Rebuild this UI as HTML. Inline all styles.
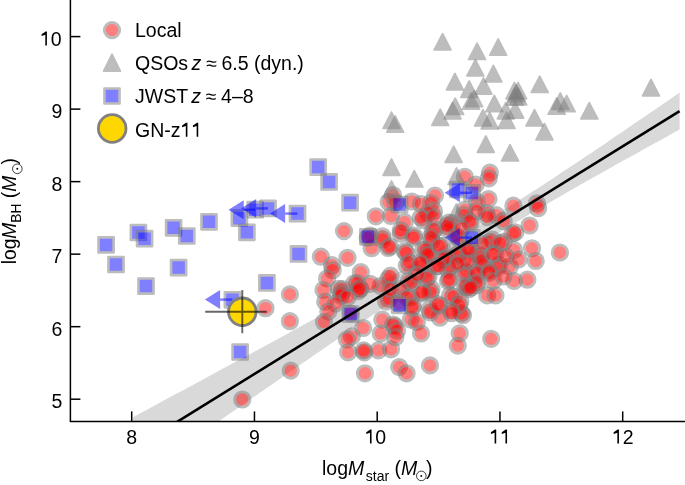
<!DOCTYPE html>
<html><head><meta charset="utf-8"><style>html,body{margin:0;padding:0;background:#fff;width:685px;height:485px;overflow:hidden}svg{display:block;will-change:transform}text{font-family:"Liberation Sans", sans-serif}</style></head><body>
<svg width="685" height="485" viewBox="0 0 685 485" font-family='"Liberation Sans", sans-serif' fill="#000"><defs><clipPath id="c"><rect x="70.4" y="0" width="614.6" height="421.4"/></clipPath></defs>
<polygon clip-path="url(#c)" points="132.6,417.4 137.2,414.9 141.8,412.5 146.4,410.0 151.0,407.5 155.6,405.0 160.2,402.6 164.8,400.1 169.4,397.6 174.0,395.1 178.6,392.6 183.2,390.2 187.8,387.7 192.4,385.2 197.0,382.7 201.5,380.2 206.1,377.8 210.7,375.3 215.3,372.8 219.9,370.3 224.5,367.8 229.1,365.3 233.7,362.8 238.3,360.3 242.9,357.8 247.5,355.4 252.1,352.9 256.7,350.4 261.3,347.9 265.9,345.4 270.5,342.9 275.1,340.4 279.7,337.9 284.3,335.4 288.9,332.9 293.5,330.3 298.1,327.8 302.7,325.3 307.3,322.8 311.9,320.3 316.5,317.8 321.1,315.2 325.7,312.7 330.3,310.2 334.9,307.7 339.4,305.1 344.0,302.6 348.6,300.1 353.2,297.5 357.8,295.0 362.4,292.4 367.0,289.9 371.6,287.3 376.2,284.7 380.8,282.1 385.4,279.6 390.0,277.0 394.6,274.4 399.2,271.8 403.8,269.2 408.4,266.6 413.0,264.0 417.6,261.3 422.2,258.7 426.8,256.1 431.4,253.4 436.0,250.7 440.6,248.0 445.2,245.4 449.8,242.7 454.4,239.9 459.0,237.2 463.6,234.5 468.2,231.7 472.8,229.0 477.3,226.2 481.9,223.4 486.5,220.6 491.1,217.7 495.7,214.9 500.3,212.0 504.9,209.2 509.5,206.3 514.1,203.4 518.7,200.5 523.3,197.5 527.9,194.6 532.5,191.6 537.1,188.7 541.7,185.7 546.3,182.7 550.9,179.7 555.5,176.7 560.1,173.6 564.7,170.6 569.3,167.5 573.9,164.5 578.5,161.4 583.1,158.3 587.7,155.3 592.3,152.2 596.9,149.1 601.5,146.0 606.1,142.9 610.7,139.8 615.2,136.6 619.8,133.5 624.4,130.4 629.0,127.3 633.6,124.1 638.2,121.0 642.8,117.8 647.4,114.7 652.0,111.5 656.6,108.4 661.2,105.2 665.8,102.1 670.4,98.9 675.0,95.7 679.6,92.6 679.6,129.6 675.0,132.1 670.4,134.6 665.8,137.2 661.2,139.7 656.6,142.2 652.0,144.8 647.4,147.3 642.8,149.8 638.2,152.4 633.6,154.9 629.0,157.5 624.4,160.0 619.8,162.6 615.2,165.1 610.7,167.7 606.1,170.3 601.5,172.9 596.9,175.4 592.3,178.0 587.7,180.6 583.1,183.2 578.5,185.8 573.9,188.5 569.3,191.1 564.7,193.7 560.1,196.4 555.5,199.0 550.9,201.7 546.3,204.4 541.7,207.1 537.1,209.8 532.5,212.5 527.9,215.2 523.3,218.0 518.7,220.7 514.1,223.5 509.5,226.3 504.9,229.1 500.3,231.9 495.7,234.7 491.1,237.6 486.5,240.4 481.9,243.3 477.3,246.2 472.8,249.1 468.2,252.0 463.6,254.9 459.0,257.9 454.4,260.8 449.8,263.8 445.2,266.8 440.6,269.8 436.0,272.8 431.4,275.8 426.8,278.8 422.2,281.9 417.6,284.9 413.0,288.0 408.4,291.1 403.8,294.1 399.2,297.2 394.6,300.3 390.0,303.4 385.4,306.5 380.8,309.6 376.2,312.7 371.6,315.8 367.0,319.0 362.4,322.1 357.8,325.2 353.2,328.4 348.6,331.5 344.0,334.7 339.4,337.8 334.9,341.0 330.3,344.1 325.7,347.3 321.1,350.4 316.5,353.6 311.9,356.8 307.3,359.9 302.7,363.1 298.1,366.3 293.5,369.5 288.9,372.6 284.3,375.8 279.7,379.0 275.1,382.2 270.5,385.4 265.9,388.5 261.3,391.7 256.7,394.9 252.1,398.1 247.5,401.3 242.9,404.5 238.3,407.7 233.7,410.9 229.1,414.1 224.5,417.3 219.9,420.5 215.3,423.7 210.7,426.9 206.1,430.1 201.5,433.3 197.0,436.5 192.4,439.7 187.8,442.9 183.2,446.1 178.6,449.3 174.0,452.5 169.4,455.7 164.8,458.9 160.2,462.1 155.6,465.3 151.0,468.5 146.4,471.8 141.8,475.0 137.2,478.2 132.6,481.4" fill="#d9d9d9"/>
<g>
<circle cx="242.3" cy="399.5" r="7.65" fill="#ff0000" stroke="#7a7a7a" stroke-width="2.9" opacity="0.5"/>
<circle cx="265.5" cy="308.2" r="7.65" fill="#ff0000" stroke="#7a7a7a" stroke-width="2.9" opacity="0.5"/>
<circle cx="289.9" cy="294.4" r="7.65" fill="#ff0000" stroke="#7a7a7a" stroke-width="2.9" opacity="0.5"/>
<circle cx="289.9" cy="321.2" r="7.65" fill="#ff0000" stroke="#7a7a7a" stroke-width="2.9" opacity="0.5"/>
<circle cx="290.7" cy="370.6" r="7.65" fill="#ff0000" stroke="#7a7a7a" stroke-width="2.9" opacity="0.5"/>
<circle cx="344" cy="231.1" r="7.65" fill="#ff0000" stroke="#7a7a7a" stroke-width="2.9" opacity="0.5"/>
<circle cx="375.8" cy="216.3" r="7.65" fill="#ff0000" stroke="#7a7a7a" stroke-width="2.9" opacity="0.5"/>
<circle cx="390.9" cy="216" r="7.65" fill="#ff0000" stroke="#7a7a7a" stroke-width="2.9" opacity="0.5"/>
<circle cx="388.6" cy="202" r="7.65" fill="#ff0000" stroke="#7a7a7a" stroke-width="2.9" opacity="0.5"/>
<circle cx="393" cy="195" r="7.65" fill="#ff0000" stroke="#7a7a7a" stroke-width="2.9" opacity="0.5"/>
<circle cx="489.9" cy="172.6" r="7.65" fill="#ff0000" stroke="#7a7a7a" stroke-width="2.9" opacity="0.5"/>
<circle cx="488.8" cy="178.3" r="7.65" fill="#ff0000" stroke="#7a7a7a" stroke-width="2.9" opacity="0.5"/>
<circle cx="464.8" cy="176.8" r="7.65" fill="#ff0000" stroke="#7a7a7a" stroke-width="2.9" opacity="0.5"/>
<circle cx="475.6" cy="184.6" r="7.65" fill="#ff0000" stroke="#7a7a7a" stroke-width="2.9" opacity="0.5"/>
<circle cx="488.5" cy="199" r="7.65" fill="#ff0000" stroke="#7a7a7a" stroke-width="2.9" opacity="0.5"/>
<circle cx="513.4" cy="205.7" r="7.65" fill="#ff0000" stroke="#7a7a7a" stroke-width="2.9" opacity="0.5"/>
<circle cx="536.9" cy="203.3" r="7.65" fill="#ff0000" stroke="#7a7a7a" stroke-width="2.9" opacity="0.5"/>
<circle cx="538.1" cy="208.2" r="7.65" fill="#ff0000" stroke="#7a7a7a" stroke-width="2.9" opacity="0.5"/>
<circle cx="529.6" cy="225.5" r="7.65" fill="#ff0000" stroke="#7a7a7a" stroke-width="2.9" opacity="0.5"/>
<circle cx="532" cy="248.3" r="7.65" fill="#ff0000" stroke="#7a7a7a" stroke-width="2.9" opacity="0.5"/>
<circle cx="535.7" cy="261" r="7.65" fill="#ff0000" stroke="#7a7a7a" stroke-width="2.9" opacity="0.5"/>
<circle cx="559.9" cy="252.5" r="7.65" fill="#ff0000" stroke="#7a7a7a" stroke-width="2.9" opacity="0.5"/>
<circle cx="430" cy="365.4" r="7.65" fill="#ff0000" stroke="#7a7a7a" stroke-width="2.9" opacity="0.5"/>
<circle cx="399.2" cy="367" r="7.65" fill="#ff0000" stroke="#7a7a7a" stroke-width="2.9" opacity="0.5"/>
<circle cx="406.6" cy="373.3" r="7.65" fill="#ff0000" stroke="#7a7a7a" stroke-width="2.9" opacity="0.5"/>
<circle cx="365" cy="373.3" r="7.65" fill="#ff0000" stroke="#7a7a7a" stroke-width="2.9" opacity="0.5"/>
<circle cx="364.3" cy="352.4" r="7.65" fill="#ff0000" stroke="#7a7a7a" stroke-width="2.9" opacity="0.5"/>
<circle cx="378.3" cy="350.4" r="7.65" fill="#ff0000" stroke="#7a7a7a" stroke-width="2.9" opacity="0.5"/>
<circle cx="391" cy="349.3" r="7.65" fill="#ff0000" stroke="#7a7a7a" stroke-width="2.9" opacity="0.5"/>
<circle cx="491.2" cy="338.8" r="7.65" fill="#ff0000" stroke="#7a7a7a" stroke-width="2.9" opacity="0.5"/>
<circle cx="459.7" cy="333.3" r="7.65" fill="#ff0000" stroke="#7a7a7a" stroke-width="2.9" opacity="0.5"/>
<circle cx="457.8" cy="345.6" r="7.65" fill="#ff0000" stroke="#7a7a7a" stroke-width="2.9" opacity="0.5"/>
<circle cx="411.8" cy="201.5" r="7.65" fill="#ff0000" stroke="#7a7a7a" stroke-width="2.9" opacity="0.5"/>
<circle cx="421" cy="204" r="7.65" fill="#ff0000" stroke="#7a7a7a" stroke-width="2.9" opacity="0.5"/>
<circle cx="435" cy="195.5" r="7.65" fill="#ff0000" stroke="#7a7a7a" stroke-width="2.9" opacity="0.5"/>
<circle cx="431" cy="203" r="7.65" fill="#ff0000" stroke="#7a7a7a" stroke-width="2.9" opacity="0.5"/>
<circle cx="434" cy="211" r="7.65" fill="#ff0000" stroke="#7a7a7a" stroke-width="2.9" opacity="0.5"/>
<circle cx="428" cy="213.2" r="7.65" fill="#ff0000" stroke="#7a7a7a" stroke-width="2.9" opacity="0.5"/>
<circle cx="382.4" cy="236.3" r="7.65" fill="#ff0000" stroke="#7a7a7a" stroke-width="2.9" opacity="0.5"/>
<circle cx="382.6" cy="239.4" r="7.65" fill="#ff0000" stroke="#7a7a7a" stroke-width="2.9" opacity="0.5"/>
<circle cx="371.6" cy="248.2" r="7.65" fill="#ff0000" stroke="#7a7a7a" stroke-width="2.9" opacity="0.5"/>
<circle cx="369.9" cy="235.5" r="7.65" fill="#ff0000" stroke="#7a7a7a" stroke-width="2.9" opacity="0.5"/>
<circle cx="367.7" cy="237.8" r="7.65" fill="#ff0000" stroke="#7a7a7a" stroke-width="2.9" opacity="0.5"/>
<circle cx="477" cy="202" r="7.65" fill="#ff0000" stroke="#7a7a7a" stroke-width="2.9" opacity="0.5"/>
<circle cx="486.4" cy="213" r="7.65" fill="#ff0000" stroke="#7a7a7a" stroke-width="2.9" opacity="0.5"/>
<circle cx="496.2" cy="215.2" r="7.65" fill="#ff0000" stroke="#7a7a7a" stroke-width="2.9" opacity="0.5"/>
<circle cx="464.8" cy="209.8" r="7.65" fill="#ff0000" stroke="#7a7a7a" stroke-width="2.9" opacity="0.5"/>
<circle cx="464" cy="215.2" r="7.65" fill="#ff0000" stroke="#7a7a7a" stroke-width="2.9" opacity="0.5"/>
<circle cx="476.8" cy="211" r="7.65" fill="#ff0000" stroke="#7a7a7a" stroke-width="2.9" opacity="0.5"/>
<circle cx="360.8" cy="272.2" r="7.65" fill="#ff0000" stroke="#7a7a7a" stroke-width="2.9" opacity="0.5"/>
<circle cx="380.6" cy="286" r="7.65" fill="#ff0000" stroke="#7a7a7a" stroke-width="2.9" opacity="0.5"/>
<circle cx="360.5" cy="289" r="7.65" fill="#ff0000" stroke="#7a7a7a" stroke-width="2.9" opacity="0.5"/>
<circle cx="370.2" cy="283.8" r="7.65" fill="#ff0000" stroke="#7a7a7a" stroke-width="2.9" opacity="0.5"/>
<circle cx="382.3" cy="319.6" r="7.65" fill="#ff0000" stroke="#7a7a7a" stroke-width="2.9" opacity="0.5"/>
<circle cx="410.7" cy="319.6" r="7.65" fill="#ff0000" stroke="#7a7a7a" stroke-width="2.9" opacity="0.5"/>
<circle cx="416.9" cy="322" r="7.65" fill="#ff0000" stroke="#7a7a7a" stroke-width="2.9" opacity="0.5"/>
<circle cx="363.2" cy="328" r="7.65" fill="#ff0000" stroke="#7a7a7a" stroke-width="2.9" opacity="0.5"/>
<circle cx="394.6" cy="326" r="7.65" fill="#ff0000" stroke="#7a7a7a" stroke-width="2.9" opacity="0.5"/>
<circle cx="393.1" cy="324.5" r="7.65" fill="#ff0000" stroke="#7a7a7a" stroke-width="2.9" opacity="0.5"/>
<circle cx="397.1" cy="330.7" r="7.65" fill="#ff0000" stroke="#7a7a7a" stroke-width="2.9" opacity="0.5"/>
<circle cx="380.7" cy="333.5" r="7.65" fill="#ff0000" stroke="#7a7a7a" stroke-width="2.9" opacity="0.5"/>
<circle cx="395.3" cy="337.2" r="7.65" fill="#ff0000" stroke="#7a7a7a" stroke-width="2.9" opacity="0.5"/>
<circle cx="421" cy="333.5" r="7.65" fill="#ff0000" stroke="#7a7a7a" stroke-width="2.9" opacity="0.5"/>
<circle cx="320.9" cy="256.7" r="7.65" fill="#ff0000" stroke="#7a7a7a" stroke-width="2.9" opacity="0.5"/>
<circle cx="347.5" cy="257.8" r="7.65" fill="#ff0000" stroke="#7a7a7a" stroke-width="2.9" opacity="0.5"/>
<circle cx="332" cy="265.2" r="7.65" fill="#ff0000" stroke="#7a7a7a" stroke-width="2.9" opacity="0.5"/>
<circle cx="332.7" cy="270.2" r="7.65" fill="#ff0000" stroke="#7a7a7a" stroke-width="2.9" opacity="0.5"/>
<circle cx="327.1" cy="278.5" r="7.65" fill="#ff0000" stroke="#7a7a7a" stroke-width="2.9" opacity="0.5"/>
<circle cx="323.4" cy="290" r="7.65" fill="#ff0000" stroke="#7a7a7a" stroke-width="2.9" opacity="0.5"/>
<circle cx="338.8" cy="288.8" r="7.65" fill="#ff0000" stroke="#7a7a7a" stroke-width="2.9" opacity="0.5"/>
<circle cx="342.5" cy="289.1" r="7.65" fill="#ff0000" stroke="#7a7a7a" stroke-width="2.9" opacity="0.5"/>
<circle cx="341.3" cy="293.2" r="7.65" fill="#ff0000" stroke="#7a7a7a" stroke-width="2.9" opacity="0.5"/>
<circle cx="341.2" cy="295.7" r="7.65" fill="#ff0000" stroke="#7a7a7a" stroke-width="2.9" opacity="0.5"/>
<circle cx="354.3" cy="283.3" r="7.65" fill="#ff0000" stroke="#7a7a7a" stroke-width="2.9" opacity="0.5"/>
<circle cx="357.2" cy="283.2" r="7.65" fill="#ff0000" stroke="#7a7a7a" stroke-width="2.9" opacity="0.5"/>
<circle cx="358" cy="291.2" r="7.65" fill="#ff0000" stroke="#7a7a7a" stroke-width="2.9" opacity="0.5"/>
<circle cx="359.5" cy="288.7" r="7.65" fill="#ff0000" stroke="#7a7a7a" stroke-width="2.9" opacity="0.5"/>
<circle cx="325.2" cy="301.7" r="7.65" fill="#ff0000" stroke="#7a7a7a" stroke-width="2.9" opacity="0.5"/>
<circle cx="335.7" cy="303.6" r="7.65" fill="#ff0000" stroke="#7a7a7a" stroke-width="2.9" opacity="0.5"/>
<circle cx="347.5" cy="297.4" r="7.65" fill="#ff0000" stroke="#7a7a7a" stroke-width="2.9" opacity="0.5"/>
<circle cx="328.3" cy="311.6" r="7.65" fill="#ff0000" stroke="#7a7a7a" stroke-width="2.9" opacity="0.5"/>
<circle cx="351.8" cy="336.4" r="7.65" fill="#ff0000" stroke="#7a7a7a" stroke-width="2.9" opacity="0.5"/>
<circle cx="346.9" cy="339.5" r="7.65" fill="#ff0000" stroke="#7a7a7a" stroke-width="2.9" opacity="0.5"/>
<circle cx="348.1" cy="352.3" r="7.65" fill="#ff0000" stroke="#7a7a7a" stroke-width="2.9" opacity="0.5"/>
<circle cx="363.6" cy="350.4" r="7.65" fill="#ff0000" stroke="#7a7a7a" stroke-width="2.9" opacity="0.5"/>
<circle cx="463" cy="315.2" r="7.65" fill="#ff0000" stroke="#7a7a7a" stroke-width="2.9" opacity="0.5"/>
<circle cx="461.5" cy="313.4" r="7.65" fill="#ff0000" stroke="#7a7a7a" stroke-width="2.9" opacity="0.5"/>
<circle cx="527.4" cy="279.7" r="7.65" fill="#ff0000" stroke="#7a7a7a" stroke-width="2.9" opacity="0.5"/>
<circle cx="439.9" cy="317.7" r="7.65" fill="#ff0000" stroke="#7a7a7a" stroke-width="2.9" opacity="0.5"/>
<circle cx="323.9" cy="322.1" r="7.65" fill="#ff0000" stroke="#7a7a7a" stroke-width="2.9" opacity="0.5"/>
<circle cx="350.6" cy="313.5" r="7.65" fill="#ff0000" stroke="#7a7a7a" stroke-width="2.9" opacity="0.5"/>
<circle cx="395.5" cy="202.5" r="7.65" fill="#ff0000" stroke="#7a7a7a" stroke-width="2.9" opacity="0.5"/>
<circle cx="404.7" cy="222.2" r="7.65" fill="#ff0000" stroke="#7a7a7a" stroke-width="2.9" opacity="0.5"/>
<circle cx="423.3" cy="220.2" r="7.65" fill="#ff0000" stroke="#7a7a7a" stroke-width="2.9" opacity="0.5"/>
<circle cx="420.8" cy="217.4" r="7.65" fill="#ff0000" stroke="#7a7a7a" stroke-width="2.9" opacity="0.5"/>
<circle cx="433.6" cy="217.1" r="7.65" fill="#ff0000" stroke="#7a7a7a" stroke-width="2.9" opacity="0.5"/>
<circle cx="452.2" cy="223.2" r="7.65" fill="#ff0000" stroke="#7a7a7a" stroke-width="2.9" opacity="0.5"/>
<circle cx="448.8" cy="222.7" r="7.65" fill="#ff0000" stroke="#7a7a7a" stroke-width="2.9" opacity="0.5"/>
<circle cx="470.7" cy="223.2" r="7.65" fill="#ff0000" stroke="#7a7a7a" stroke-width="2.9" opacity="0.5"/>
<circle cx="469.7" cy="221.3" r="7.65" fill="#ff0000" stroke="#7a7a7a" stroke-width="2.9" opacity="0.5"/>
<circle cx="487.2" cy="217.1" r="7.65" fill="#ff0000" stroke="#7a7a7a" stroke-width="2.9" opacity="0.5"/>
<circle cx="503.7" cy="221.2" r="7.65" fill="#ff0000" stroke="#7a7a7a" stroke-width="2.9" opacity="0.5"/>
<circle cx="400.6" cy="233.6" r="7.65" fill="#ff0000" stroke="#7a7a7a" stroke-width="2.9" opacity="0.5"/>
<circle cx="400.8" cy="230.4" r="7.65" fill="#ff0000" stroke="#7a7a7a" stroke-width="2.9" opacity="0.5"/>
<circle cx="414" cy="235.6" r="7.65" fill="#ff0000" stroke="#7a7a7a" stroke-width="2.9" opacity="0.5"/>
<circle cx="413.3" cy="237.6" r="7.65" fill="#ff0000" stroke="#7a7a7a" stroke-width="2.9" opacity="0.5"/>
<circle cx="432.6" cy="231.5" r="7.65" fill="#ff0000" stroke="#7a7a7a" stroke-width="2.9" opacity="0.5"/>
<circle cx="434.6" cy="229.3" r="7.65" fill="#ff0000" stroke="#7a7a7a" stroke-width="2.9" opacity="0.5"/>
<circle cx="431.5" cy="240.8" r="7.65" fill="#ff0000" stroke="#7a7a7a" stroke-width="2.9" opacity="0.5"/>
<circle cx="430.8" cy="237.1" r="7.65" fill="#ff0000" stroke="#7a7a7a" stroke-width="2.9" opacity="0.5"/>
<circle cx="448" cy="229.4" r="7.65" fill="#ff0000" stroke="#7a7a7a" stroke-width="2.9" opacity="0.5"/>
<circle cx="447.1" cy="225.7" r="7.65" fill="#ff0000" stroke="#7a7a7a" stroke-width="2.9" opacity="0.5"/>
<circle cx="492.4" cy="239.7" r="7.65" fill="#ff0000" stroke="#7a7a7a" stroke-width="2.9" opacity="0.5"/>
<circle cx="489.6" cy="241.9" r="7.65" fill="#ff0000" stroke="#7a7a7a" stroke-width="2.9" opacity="0.5"/>
<circle cx="503.7" cy="241.8" r="7.65" fill="#ff0000" stroke="#7a7a7a" stroke-width="2.9" opacity="0.5"/>
<circle cx="500.1" cy="243.1" r="7.65" fill="#ff0000" stroke="#7a7a7a" stroke-width="2.9" opacity="0.5"/>
<circle cx="514" cy="250" r="7.65" fill="#ff0000" stroke="#7a7a7a" stroke-width="2.9" opacity="0.5"/>
<circle cx="388.2" cy="248" r="7.65" fill="#ff0000" stroke="#7a7a7a" stroke-width="2.9" opacity="0.5"/>
<circle cx="389.8" cy="246.5" r="7.65" fill="#ff0000" stroke="#7a7a7a" stroke-width="2.9" opacity="0.5"/>
<circle cx="404.7" cy="251.1" r="7.65" fill="#ff0000" stroke="#7a7a7a" stroke-width="2.9" opacity="0.5"/>
<circle cx="406.3" cy="252.9" r="7.65" fill="#ff0000" stroke="#7a7a7a" stroke-width="2.9" opacity="0.5"/>
<circle cx="423.3" cy="250" r="7.65" fill="#ff0000" stroke="#7a7a7a" stroke-width="2.9" opacity="0.5"/>
<circle cx="426.1" cy="249.4" r="7.65" fill="#ff0000" stroke="#7a7a7a" stroke-width="2.9" opacity="0.5"/>
<circle cx="429.5" cy="256.2" r="7.65" fill="#ff0000" stroke="#7a7a7a" stroke-width="2.9" opacity="0.5"/>
<circle cx="427.7" cy="254.3" r="7.65" fill="#ff0000" stroke="#7a7a7a" stroke-width="2.9" opacity="0.5"/>
<circle cx="441.9" cy="245.9" r="7.65" fill="#ff0000" stroke="#7a7a7a" stroke-width="2.9" opacity="0.5"/>
<circle cx="439.1" cy="245.8" r="7.65" fill="#ff0000" stroke="#7a7a7a" stroke-width="2.9" opacity="0.5"/>
<circle cx="458.4" cy="253.1" r="7.65" fill="#ff0000" stroke="#7a7a7a" stroke-width="2.9" opacity="0.5"/>
<circle cx="456.5" cy="255.7" r="7.65" fill="#ff0000" stroke="#7a7a7a" stroke-width="2.9" opacity="0.5"/>
<circle cx="481" cy="256.2" r="7.65" fill="#ff0000" stroke="#7a7a7a" stroke-width="2.9" opacity="0.5"/>
<circle cx="477.7" cy="254.3" r="7.65" fill="#ff0000" stroke="#7a7a7a" stroke-width="2.9" opacity="0.5"/>
<circle cx="483.1" cy="264.5" r="7.65" fill="#ff0000" stroke="#7a7a7a" stroke-width="2.9" opacity="0.5"/>
<circle cx="481.5" cy="261.0" r="7.65" fill="#ff0000" stroke="#7a7a7a" stroke-width="2.9" opacity="0.5"/>
<circle cx="406.8" cy="265.5" r="7.65" fill="#ff0000" stroke="#7a7a7a" stroke-width="2.9" opacity="0.5"/>
<circle cx="409.3" cy="262.4" r="7.65" fill="#ff0000" stroke="#7a7a7a" stroke-width="2.9" opacity="0.5"/>
<circle cx="421.2" cy="264.5" r="7.65" fill="#ff0000" stroke="#7a7a7a" stroke-width="2.9" opacity="0.5"/>
<circle cx="420.1" cy="262.5" r="7.65" fill="#ff0000" stroke="#7a7a7a" stroke-width="2.9" opacity="0.5"/>
<circle cx="448" cy="269.6" r="7.65" fill="#ff0000" stroke="#7a7a7a" stroke-width="2.9" opacity="0.5"/>
<circle cx="450.5" cy="266.6" r="7.65" fill="#ff0000" stroke="#7a7a7a" stroke-width="2.9" opacity="0.5"/>
<circle cx="463.5" cy="273.8" r="7.65" fill="#ff0000" stroke="#7a7a7a" stroke-width="2.9" opacity="0.5"/>
<circle cx="466.1" cy="272.0" r="7.65" fill="#ff0000" stroke="#7a7a7a" stroke-width="2.9" opacity="0.5"/>
<circle cx="476.9" cy="274.8" r="7.65" fill="#ff0000" stroke="#7a7a7a" stroke-width="2.9" opacity="0.5"/>
<circle cx="476.4" cy="272.4" r="7.65" fill="#ff0000" stroke="#7a7a7a" stroke-width="2.9" opacity="0.5"/>
<circle cx="497.5" cy="267.6" r="7.65" fill="#ff0000" stroke="#7a7a7a" stroke-width="2.9" opacity="0.5"/>
<circle cx="499.0" cy="264.9" r="7.65" fill="#ff0000" stroke="#7a7a7a" stroke-width="2.9" opacity="0.5"/>
<circle cx="509.9" cy="266.5" r="7.65" fill="#ff0000" stroke="#7a7a7a" stroke-width="2.9" opacity="0.5"/>
<circle cx="489.3" cy="270.7" r="7.65" fill="#ff0000" stroke="#7a7a7a" stroke-width="2.9" opacity="0.5"/>
<circle cx="488.8" cy="272.8" r="7.65" fill="#ff0000" stroke="#7a7a7a" stroke-width="2.9" opacity="0.5"/>
<circle cx="388.2" cy="278.9" r="7.65" fill="#ff0000" stroke="#7a7a7a" stroke-width="2.9" opacity="0.5"/>
<circle cx="390.6" cy="275.7" r="7.65" fill="#ff0000" stroke="#7a7a7a" stroke-width="2.9" opacity="0.5"/>
<circle cx="408.9" cy="281" r="7.65" fill="#ff0000" stroke="#7a7a7a" stroke-width="2.9" opacity="0.5"/>
<circle cx="412.0" cy="282.9" r="7.65" fill="#ff0000" stroke="#7a7a7a" stroke-width="2.9" opacity="0.5"/>
<circle cx="428.5" cy="276.9" r="7.65" fill="#ff0000" stroke="#7a7a7a" stroke-width="2.9" opacity="0.5"/>
<circle cx="426.6" cy="278.1" r="7.65" fill="#ff0000" stroke="#7a7a7a" stroke-width="2.9" opacity="0.5"/>
<circle cx="431.5" cy="289.2" r="7.65" fill="#ff0000" stroke="#7a7a7a" stroke-width="2.9" opacity="0.5"/>
<circle cx="430.5" cy="292.6" r="7.65" fill="#ff0000" stroke="#7a7a7a" stroke-width="2.9" opacity="0.5"/>
<circle cx="448" cy="281" r="7.65" fill="#ff0000" stroke="#7a7a7a" stroke-width="2.9" opacity="0.5"/>
<circle cx="449.5" cy="279.5" r="7.65" fill="#ff0000" stroke="#7a7a7a" stroke-width="2.9" opacity="0.5"/>
<circle cx="466.6" cy="287.2" r="7.65" fill="#ff0000" stroke="#7a7a7a" stroke-width="2.9" opacity="0.5"/>
<circle cx="465.0" cy="285.8" r="7.65" fill="#ff0000" stroke="#7a7a7a" stroke-width="2.9" opacity="0.5"/>
<circle cx="476.9" cy="285.1" r="7.65" fill="#ff0000" stroke="#7a7a7a" stroke-width="2.9" opacity="0.5"/>
<circle cx="476.4" cy="282.5" r="7.65" fill="#ff0000" stroke="#7a7a7a" stroke-width="2.9" opacity="0.5"/>
<circle cx="493.4" cy="280.9" r="7.65" fill="#ff0000" stroke="#7a7a7a" stroke-width="2.9" opacity="0.5"/>
<circle cx="514" cy="281" r="7.65" fill="#ff0000" stroke="#7a7a7a" stroke-width="2.9" opacity="0.5"/>
<circle cx="400.6" cy="289.2" r="7.65" fill="#ff0000" stroke="#7a7a7a" stroke-width="2.9" opacity="0.5"/>
<circle cx="386.2" cy="301.6" r="7.65" fill="#ff0000" stroke="#7a7a7a" stroke-width="2.9" opacity="0.5"/>
<circle cx="389.1" cy="298.9" r="7.65" fill="#ff0000" stroke="#7a7a7a" stroke-width="2.9" opacity="0.5"/>
<circle cx="410.9" cy="297.5" r="7.65" fill="#ff0000" stroke="#7a7a7a" stroke-width="2.9" opacity="0.5"/>
<circle cx="406.9" cy="297.4" r="7.65" fill="#ff0000" stroke="#7a7a7a" stroke-width="2.9" opacity="0.5"/>
<circle cx="413" cy="305.7" r="7.65" fill="#ff0000" stroke="#7a7a7a" stroke-width="2.9" opacity="0.5"/>
<circle cx="412.2" cy="307.7" r="7.65" fill="#ff0000" stroke="#7a7a7a" stroke-width="2.9" opacity="0.5"/>
<circle cx="423.3" cy="293.4" r="7.65" fill="#ff0000" stroke="#7a7a7a" stroke-width="2.9" opacity="0.5"/>
<circle cx="421.6" cy="292.2" r="7.65" fill="#ff0000" stroke="#7a7a7a" stroke-width="2.9" opacity="0.5"/>
<circle cx="429.5" cy="309.8" r="7.65" fill="#ff0000" stroke="#7a7a7a" stroke-width="2.9" opacity="0.5"/>
<circle cx="430.4" cy="312.5" r="7.65" fill="#ff0000" stroke="#7a7a7a" stroke-width="2.9" opacity="0.5"/>
<circle cx="439.8" cy="305.7" r="7.65" fill="#ff0000" stroke="#7a7a7a" stroke-width="2.9" opacity="0.5"/>
<circle cx="438.0" cy="304.2" r="7.65" fill="#ff0000" stroke="#7a7a7a" stroke-width="2.9" opacity="0.5"/>
<circle cx="450.1" cy="295.4" r="7.65" fill="#ff0000" stroke="#7a7a7a" stroke-width="2.9" opacity="0.5"/>
<circle cx="453.7" cy="296.4" r="7.65" fill="#ff0000" stroke="#7a7a7a" stroke-width="2.9" opacity="0.5"/>
<circle cx="460.4" cy="301.6" r="7.65" fill="#ff0000" stroke="#7a7a7a" stroke-width="2.9" opacity="0.5"/>
<circle cx="458.9" cy="305.2" r="7.65" fill="#ff0000" stroke="#7a7a7a" stroke-width="2.9" opacity="0.5"/>
<circle cx="468.7" cy="289.2" r="7.65" fill="#ff0000" stroke="#7a7a7a" stroke-width="2.9" opacity="0.5"/>
<circle cx="470.9" cy="287.5" r="7.65" fill="#ff0000" stroke="#7a7a7a" stroke-width="2.9" opacity="0.5"/>
<circle cx="487.2" cy="295.4" r="7.65" fill="#ff0000" stroke="#7a7a7a" stroke-width="2.9" opacity="0.5"/>
<circle cx="495.5" cy="295.4" r="7.65" fill="#ff0000" stroke="#7a7a7a" stroke-width="2.9" opacity="0.5"/>
<circle cx="398.5" cy="303.5" r="7.65" fill="#ff0000" stroke="#7a7a7a" stroke-width="2.9" opacity="0.5"/>
<circle cx="495.5" cy="253.5" r="7.65" fill="#ff0000" stroke="#7a7a7a" stroke-width="2.9" opacity="0.5"/>
<circle cx="492.6" cy="254.2" r="7.65" fill="#ff0000" stroke="#7a7a7a" stroke-width="2.9" opacity="0.5"/>
<circle cx="458.5" cy="238.5" r="7.65" fill="#ff0000" stroke="#7a7a7a" stroke-width="2.9" opacity="0.5"/>
<circle cx="456.5" cy="236.0" r="7.65" fill="#ff0000" stroke="#7a7a7a" stroke-width="2.9" opacity="0.5"/>
<circle cx="468.5" cy="261.5" r="7.65" fill="#ff0000" stroke="#7a7a7a" stroke-width="2.9" opacity="0.5"/>
<circle cx="465.5" cy="260.3" r="7.65" fill="#ff0000" stroke="#7a7a7a" stroke-width="2.9" opacity="0.5"/>
<circle cx="512.5" cy="233.5" r="7.65" fill="#ff0000" stroke="#7a7a7a" stroke-width="2.9" opacity="0.5"/>
<circle cx="515.3" cy="232.4" r="7.65" fill="#ff0000" stroke="#7a7a7a" stroke-width="2.9" opacity="0.5"/>
<circle cx="446.5" cy="257.5" r="7.65" fill="#ff0000" stroke="#7a7a7a" stroke-width="2.9" opacity="0.5"/>
<circle cx="443.4" cy="258.9" r="7.65" fill="#ff0000" stroke="#7a7a7a" stroke-width="2.9" opacity="0.5"/>
<circle cx="451.5" cy="310.5" r="7.65" fill="#ff0000" stroke="#7a7a7a" stroke-width="2.9" opacity="0.5"/>
<circle cx="451.7" cy="313.1" r="7.65" fill="#ff0000" stroke="#7a7a7a" stroke-width="2.9" opacity="0.5"/>
<circle cx="435.5" cy="266.5" r="7.65" fill="#ff0000" stroke="#7a7a7a" stroke-width="2.9" opacity="0.5"/>
<circle cx="438.5" cy="266.1" r="7.65" fill="#ff0000" stroke="#7a7a7a" stroke-width="2.9" opacity="0.5"/>
<circle cx="469.5" cy="249.5" r="7.65" fill="#ff0000" stroke="#7a7a7a" stroke-width="2.9" opacity="0.5"/>
<circle cx="467.6" cy="248.9" r="7.65" fill="#ff0000" stroke="#7a7a7a" stroke-width="2.9" opacity="0.5"/>
<circle cx="503.5" cy="276.5" r="7.65" fill="#ff0000" stroke="#7a7a7a" stroke-width="2.9" opacity="0.5"/>
<circle cx="461.5" cy="228.5" r="7.65" fill="#ff0000" stroke="#7a7a7a" stroke-width="2.9" opacity="0.5"/>
<circle cx="482.5" cy="243.5" r="7.65" fill="#ff0000" stroke="#7a7a7a" stroke-width="2.9" opacity="0.5"/>
<circle cx="505.5" cy="256.5" r="7.65" fill="#ff0000" stroke="#7a7a7a" stroke-width="2.9" opacity="0.5"/>
<circle cx="518.5" cy="259.5" r="7.65" fill="#ff0000" stroke="#7a7a7a" stroke-width="2.9" opacity="0.5"/>
<circle cx="457.5" cy="263.5" r="7.65" fill="#ff0000" stroke="#7a7a7a" stroke-width="2.9" opacity="0.5"/>
<circle cx="417.5" cy="274.5" r="7.65" fill="#ff0000" stroke="#7a7a7a" stroke-width="2.9" opacity="0.5"/>
<circle cx="390.5" cy="289.5" r="7.65" fill="#ff0000" stroke="#7a7a7a" stroke-width="2.9" opacity="0.5"/>
</g>
<polygon points="516.2,85.0 507.8,101.3 524.7,101.3" fill="#7c7c7c" stroke="#7c7c7c" stroke-width="1.7" stroke-linejoin="round" opacity="0.5"/>
<polygon points="442.6,33.7 434.1,50.0 451.0,50.0" fill="#7c7c7c" stroke="#7c7c7c" stroke-width="1.7" stroke-linejoin="round" opacity="0.5"/>
<polygon points="477.1,43.1 468.6,59.4 485.5,59.4" fill="#7c7c7c" stroke="#7c7c7c" stroke-width="1.7" stroke-linejoin="round" opacity="0.5"/>
<polygon points="498.2,38.9 489.8,55.2 506.6,55.2" fill="#7c7c7c" stroke="#7c7c7c" stroke-width="1.7" stroke-linejoin="round" opacity="0.5"/>
<polygon points="475.4,59.7 466.9,76.0 483.8,76.0" fill="#7c7c7c" stroke="#7c7c7c" stroke-width="1.7" stroke-linejoin="round" opacity="0.5"/>
<polygon points="493.4,65.5 484.9,81.8 501.8,81.8" fill="#7c7c7c" stroke="#7c7c7c" stroke-width="1.7" stroke-linejoin="round" opacity="0.5"/>
<polygon points="454.9,73.5 446.4,89.8 463.3,89.8" fill="#7c7c7c" stroke="#7c7c7c" stroke-width="1.7" stroke-linejoin="round" opacity="0.5"/>
<polygon points="469.2,81.0 460.8,97.3 477.6,97.3" fill="#7c7c7c" stroke="#7c7c7c" stroke-width="1.7" stroke-linejoin="round" opacity="0.5"/>
<polygon points="483.5,77.8 475.1,94.1 491.9,94.1" fill="#7c7c7c" stroke="#7c7c7c" stroke-width="1.7" stroke-linejoin="round" opacity="0.5"/>
<polygon points="474.2,90.4 465.8,106.7 482.6,106.7" fill="#7c7c7c" stroke="#7c7c7c" stroke-width="1.7" stroke-linejoin="round" opacity="0.5"/>
<polygon points="471.1,92.9 462.6,109.2 479.5,109.2" fill="#7c7c7c" stroke="#7c7c7c" stroke-width="1.7" stroke-linejoin="round" opacity="0.5"/>
<polygon points="455.2,98.2 446.8,114.5 463.6,114.5" fill="#7c7c7c" stroke="#7c7c7c" stroke-width="1.7" stroke-linejoin="round" opacity="0.5"/>
<polygon points="452.6,102.5 444.1,118.8 461.0,118.8" fill="#7c7c7c" stroke="#7c7c7c" stroke-width="1.7" stroke-linejoin="round" opacity="0.5"/>
<polygon points="440.2,109.2 431.8,125.5 448.6,125.5" fill="#7c7c7c" stroke="#7c7c7c" stroke-width="1.7" stroke-linejoin="round" opacity="0.5"/>
<polygon points="494.3,95.3 485.9,111.6 502.8,111.6" fill="#7c7c7c" stroke="#7c7c7c" stroke-width="1.7" stroke-linejoin="round" opacity="0.5"/>
<polygon points="483.0,109.7 474.6,126.0 491.4,126.0" fill="#7c7c7c" stroke="#7c7c7c" stroke-width="1.7" stroke-linejoin="round" opacity="0.5"/>
<polygon points="489.7,112.5 481.2,128.8 498.1,128.8" fill="#7c7c7c" stroke="#7c7c7c" stroke-width="1.7" stroke-linejoin="round" opacity="0.5"/>
<polygon points="506.6,112.2 498.1,128.5 515.0,128.5" fill="#7c7c7c" stroke="#7c7c7c" stroke-width="1.7" stroke-linejoin="round" opacity="0.5"/>
<polygon points="505.8,102.5 497.4,118.8 514.2,118.8" fill="#7c7c7c" stroke="#7c7c7c" stroke-width="1.7" stroke-linejoin="round" opacity="0.5"/>
<polygon points="514.4,82.5 506.0,98.8 522.9,98.8" fill="#7c7c7c" stroke="#7c7c7c" stroke-width="1.7" stroke-linejoin="round" opacity="0.5"/>
<polygon points="518.1,82.5 509.7,98.8 526.6,98.8" fill="#7c7c7c" stroke="#7c7c7c" stroke-width="1.7" stroke-linejoin="round" opacity="0.5"/>
<polygon points="514.7,88.5 506.3,104.8 523.2,104.8" fill="#7c7c7c" stroke="#7c7c7c" stroke-width="1.7" stroke-linejoin="round" opacity="0.5"/>
<polygon points="518.2,88.5 509.8,104.8 526.7,104.8" fill="#7c7c7c" stroke="#7c7c7c" stroke-width="1.7" stroke-linejoin="round" opacity="0.5"/>
<polygon points="515.2,101.8 506.8,118.1 523.7,118.1" fill="#7c7c7c" stroke="#7c7c7c" stroke-width="1.7" stroke-linejoin="round" opacity="0.5"/>
<polygon points="534.5,109.6 526.0,125.9 543.0,125.9" fill="#7c7c7c" stroke="#7c7c7c" stroke-width="1.7" stroke-linejoin="round" opacity="0.5"/>
<polygon points="539.7,76.2 531.2,92.5 548.2,92.5" fill="#7c7c7c" stroke="#7c7c7c" stroke-width="1.7" stroke-linejoin="round" opacity="0.5"/>
<polygon points="485.8,136.0 477.4,152.3 494.2,152.3" fill="#7c7c7c" stroke="#7c7c7c" stroke-width="1.7" stroke-linejoin="round" opacity="0.5"/>
<polygon points="560.3,93.0 551.9,109.3 568.8,109.3" fill="#7c7c7c" stroke="#7c7c7c" stroke-width="1.7" stroke-linejoin="round" opacity="0.5"/>
<polygon points="566.6,95.4 558.1,111.7 575.1,111.7" fill="#7c7c7c" stroke="#7c7c7c" stroke-width="1.7" stroke-linejoin="round" opacity="0.5"/>
<polygon points="556.7,97.9 548.2,114.2 565.2,114.2" fill="#7c7c7c" stroke="#7c7c7c" stroke-width="1.7" stroke-linejoin="round" opacity="0.5"/>
<polygon points="589.3,102.6 580.9,118.9 597.8,118.9" fill="#7c7c7c" stroke="#7c7c7c" stroke-width="1.7" stroke-linejoin="round" opacity="0.5"/>
<polygon points="544.4,123.5 536.0,139.8 552.9,139.8" fill="#7c7c7c" stroke="#7c7c7c" stroke-width="1.7" stroke-linejoin="round" opacity="0.5"/>
<polygon points="651.0,79.5 642.5,95.8 659.5,95.8" fill="#7c7c7c" stroke="#7c7c7c" stroke-width="1.7" stroke-linejoin="round" opacity="0.5"/>
<polygon points="510.0,144.6 501.6,160.9 518.5,160.9" fill="#7c7c7c" stroke="#7c7c7c" stroke-width="1.7" stroke-linejoin="round" opacity="0.5"/>
<polygon points="391.5,112.1 383.1,128.4 399.9,128.4" fill="#7c7c7c" stroke="#7c7c7c" stroke-width="1.7" stroke-linejoin="round" opacity="0.5"/>
<polygon points="395.2,115.9 386.8,132.2 403.6,132.2" fill="#7c7c7c" stroke="#7c7c7c" stroke-width="1.7" stroke-linejoin="round" opacity="0.5"/>
<polygon points="453.7,146.2 445.2,162.5 462.1,162.5" fill="#7c7c7c" stroke="#7c7c7c" stroke-width="1.7" stroke-linejoin="round" opacity="0.5"/>
<polygon points="391.5,159.0 383.1,175.3 399.9,175.3" fill="#7c7c7c" stroke="#7c7c7c" stroke-width="1.7" stroke-linejoin="round" opacity="0.5"/>
<polygon points="414.3,170.7 405.9,187.0 422.8,187.0" fill="#7c7c7c" stroke="#7c7c7c" stroke-width="1.7" stroke-linejoin="round" opacity="0.5"/>
<polygon points="391.5,181.0 383.1,197.3 399.9,197.3" fill="#7c7c7c" stroke="#7c7c7c" stroke-width="1.7" stroke-linejoin="round" opacity="0.5"/>
<polygon points="456.5,168.0 448.1,184.3 464.9,184.3" fill="#7c7c7c" stroke="#7c7c7c" stroke-width="1.7" stroke-linejoin="round" opacity="0.5"/>
<polygon points="456.4,204.0 447.9,220.3 464.8,220.3" fill="#7c7c7c" stroke="#7c7c7c" stroke-width="1.7" stroke-linejoin="round" opacity="0.5"/>
<rect x="98.55" y="237.35" width="15.1" height="15.1" fill="#0000ff" stroke="#7a7a7a" stroke-width="2.6" stroke-linejoin="round" opacity="0.5"/>
<rect x="108.45" y="256.95" width="15.1" height="15.1" fill="#0000ff" stroke="#7a7a7a" stroke-width="2.6" stroke-linejoin="round" opacity="0.5"/>
<rect x="130.85" y="224.95" width="15.1" height="15.1" fill="#0000ff" stroke="#7a7a7a" stroke-width="2.6" stroke-linejoin="round" opacity="0.5"/>
<rect x="137.05" y="231.15" width="15.1" height="15.1" fill="#0000ff" stroke="#7a7a7a" stroke-width="2.6" stroke-linejoin="round" opacity="0.5"/>
<rect x="166.05" y="220.25" width="15.1" height="15.1" fill="#0000ff" stroke="#7a7a7a" stroke-width="2.6" stroke-linejoin="round" opacity="0.5"/>
<rect x="179.25" y="228.45" width="15.1" height="15.1" fill="#0000ff" stroke="#7a7a7a" stroke-width="2.6" stroke-linejoin="round" opacity="0.5"/>
<rect x="171.05" y="260.05" width="15.1" height="15.1" fill="#0000ff" stroke="#7a7a7a" stroke-width="2.6" stroke-linejoin="round" opacity="0.5"/>
<rect x="138.45" y="278.55" width="15.1" height="15.1" fill="#0000ff" stroke="#7a7a7a" stroke-width="2.6" stroke-linejoin="round" opacity="0.5"/>
<rect x="201.45" y="214.25" width="15.1" height="15.1" fill="#0000ff" stroke="#7a7a7a" stroke-width="2.6" stroke-linejoin="round" opacity="0.5"/>
<rect x="231.85" y="210.65" width="15.1" height="15.1" fill="#0000ff" stroke="#7a7a7a" stroke-width="2.6" stroke-linejoin="round" opacity="0.5"/>
<rect x="239.35" y="224.75" width="15.1" height="15.1" fill="#0000ff" stroke="#7a7a7a" stroke-width="2.6" stroke-linejoin="round" opacity="0.5"/>
<rect x="247.65" y="202.15" width="15.1" height="15.1" fill="#0000ff" stroke="#7a7a7a" stroke-width="2.6" stroke-linejoin="round" opacity="0.5"/>
<rect x="260.45" y="200.85" width="15.1" height="15.1" fill="#0000ff" stroke="#7a7a7a" stroke-width="2.6" stroke-linejoin="round" opacity="0.5"/>
<rect x="289.95" y="206.05" width="15.1" height="15.1" fill="#0000ff" stroke="#7a7a7a" stroke-width="2.6" stroke-linejoin="round" opacity="0.5"/>
<rect x="290.95" y="246.35" width="15.1" height="15.1" fill="#0000ff" stroke="#7a7a7a" stroke-width="2.6" stroke-linejoin="round" opacity="0.5"/>
<rect x="259.35" y="275.35" width="15.1" height="15.1" fill="#0000ff" stroke="#7a7a7a" stroke-width="2.6" stroke-linejoin="round" opacity="0.5"/>
<rect x="224.85" y="292.25" width="15.1" height="15.1" fill="#0000ff" stroke="#7a7a7a" stroke-width="2.6" stroke-linejoin="round" opacity="0.5"/>
<rect x="232.55" y="344.45" width="15.1" height="15.1" fill="#0000ff" stroke="#7a7a7a" stroke-width="2.6" stroke-linejoin="round" opacity="0.5"/>
<rect x="310.65" y="159.55" width="15.1" height="15.1" fill="#0000ff" stroke="#7a7a7a" stroke-width="2.6" stroke-linejoin="round" opacity="0.5"/>
<rect x="321.55" y="174.35" width="15.1" height="15.1" fill="#0000ff" stroke="#7a7a7a" stroke-width="2.6" stroke-linejoin="round" opacity="0.5"/>
<rect x="342.55" y="195.15" width="15.1" height="15.1" fill="#0000ff" stroke="#7a7a7a" stroke-width="2.6" stroke-linejoin="round" opacity="0.5"/>
<rect x="360.35" y="229.25" width="15.1" height="15.1" fill="#0000ff" stroke="#7a7a7a" stroke-width="2.6" stroke-linejoin="round" opacity="0.5"/>
<rect x="343.05" y="306.55" width="15.1" height="15.1" fill="#0000ff" stroke="#7a7a7a" stroke-width="2.6" stroke-linejoin="round" opacity="0.5"/>
<rect x="392.05" y="197.05" width="15.1" height="15.1" fill="#0000ff" stroke="#7a7a7a" stroke-width="2.6" stroke-linejoin="round" opacity="0.5"/>
<rect x="450.45" y="181.95" width="15.1" height="15.1" fill="#0000ff" stroke="#7a7a7a" stroke-width="2.6" stroke-linejoin="round" opacity="0.5"/>
<rect x="464.45" y="185.35" width="15.1" height="15.1" fill="#0000ff" stroke="#7a7a7a" stroke-width="2.6" stroke-linejoin="round" opacity="0.5"/>
<rect x="464.25" y="230.25" width="15.1" height="15.1" fill="#0000ff" stroke="#7a7a7a" stroke-width="2.6" stroke-linejoin="round" opacity="0.5"/>
<rect x="392.05" y="297.75" width="15.1" height="15.1" fill="#0000ff" stroke="#7a7a7a" stroke-width="2.6" stroke-linejoin="round" opacity="0.5"/>
<g opacity="0.5"><line x1="255.2" y1="209.7" x2="243.7" y2="209.7" stroke="#0000ff" stroke-width="2.4"/><polygon points="228.5,209.7 243.7,200.2 243.7,219.2" fill="#0000ff"/></g>
<g opacity="0.5"><line x1="268" y1="208.4" x2="256.2" y2="208.4" stroke="#0000ff" stroke-width="2.4"/><polygon points="241,208.4 256.2,198.9 256.2,217.9" fill="#0000ff"/></g>
<g opacity="0.5"><line x1="297.5" y1="213.6" x2="285.09999999999997" y2="213.6" stroke="#0000ff" stroke-width="2.4"/><polygon points="269.9,213.6 285.09999999999997,204.1 285.09999999999997,223.1" fill="#0000ff"/></g>
<g opacity="0.5"><line x1="232.4" y1="299.6" x2="220.1" y2="299.6" stroke="#0000ff" stroke-width="2.4"/><polygon points="204.9,299.6 220.1,290.1 220.1,309.1" fill="#0000ff"/></g>
<g opacity="0.5"><line x1="472" y1="192.8" x2="459.9" y2="192.8" stroke="#0000ff" stroke-width="2.4"/><polygon points="444.7,192.8 459.9,183.3 459.9,202.3" fill="#0000ff"/></g>
<g opacity="0.5"><line x1="471.8" y1="237.6" x2="459.9" y2="237.6" stroke="#0000ff" stroke-width="2.4"/><polygon points="444.7,237.6 459.9,228.1 459.9,247.1" fill="#0000ff"/></g>
<circle cx="242.3" cy="311.8" r="13.8" fill="#ffd700" stroke="#808080" stroke-width="2.8"/>
<g opacity="0.6" stroke="#000" stroke-width="1.9"><line x1="205.2" y1="311.8" x2="266.8" y2="311.8"/><line x1="242.3" y1="290.1" x2="242.3" y2="333.2"/></g>
<line clip-path="url(#c)" x1="170" y1="426.27" x2="679.6" y2="111.08" stroke="#000" stroke-width="2.6"/>
<path d="M70.4,0 V421.4 H685" fill="none" stroke="#000" stroke-width="1.5"/>
<line x1="70.4" y1="399.20" x2="80.4" y2="399.20" stroke="#000" stroke-width="1.5"/>
<text x="62.3" y="408.10" text-anchor="end" font-size="19.5">5</text>
<line x1="70.4" y1="326.68" x2="80.4" y2="326.68" stroke="#000" stroke-width="1.5"/>
<text x="62.3" y="335.58" text-anchor="end" font-size="19.5">6</text>
<line x1="70.4" y1="254.16" x2="80.4" y2="254.16" stroke="#000" stroke-width="1.5"/>
<text x="62.3" y="263.06" text-anchor="end" font-size="19.5">7</text>
<line x1="70.4" y1="181.64" x2="80.4" y2="181.64" stroke="#000" stroke-width="1.5"/>
<text x="62.3" y="190.54" text-anchor="end" font-size="19.5">8</text>
<line x1="70.4" y1="109.12" x2="80.4" y2="109.12" stroke="#000" stroke-width="1.5"/>
<text x="62.3" y="118.02" text-anchor="end" font-size="19.5">9</text>
<line x1="70.4" y1="36.60" x2="80.4" y2="36.60" stroke="#000" stroke-width="1.5"/>
<path d="M45.61,31.50 L46.91,31.50 L46.91,45.50 L45.31,45.50 L45.31,34.70 L41.61,36.00 L41.61,34.20 Z"/>
<text x="50.66" y="45.50" font-size="19.5">0</text>
<line x1="131.70" y1="421.4" x2="131.70" y2="411.4" stroke="#000" stroke-width="1.5"/>
<text x="131.70" y="443.5" text-anchor="middle" font-size="19.5">8</text>
<line x1="254.45" y1="421.4" x2="254.45" y2="411.4" stroke="#000" stroke-width="1.5"/>
<text x="254.45" y="443.5" text-anchor="middle" font-size="19.5">9</text>
<line x1="377.20" y1="421.4" x2="377.20" y2="411.4" stroke="#000" stroke-width="1.5"/>
<path d="M370.26,429.50 L371.56,429.50 L371.56,443.50 L369.96,443.50 L369.96,432.70 L366.26,434.00 L366.26,432.20 Z"/>
<text x="375.30" y="443.5" font-size="19.5">0</text>
<line x1="499.95" y1="421.4" x2="499.95" y2="411.4" stroke="#000" stroke-width="1.5"/>
<path d="M494.91,429.50 L496.21,429.50 L496.21,443.50 L494.61,443.50 L494.61,432.70 L490.91,434.00 L490.91,432.20 Z"/>
<path d="M505.75,429.50 L507.05,429.50 L507.05,443.50 L505.45,443.50 L505.45,432.70 L501.75,434.00 L501.75,432.20 Z"/>
<line x1="622.70" y1="421.4" x2="622.70" y2="411.4" stroke="#000" stroke-width="1.5"/>
<path d="M617.66,429.50 L618.96,429.50 L618.96,443.50 L617.36,443.50 L617.36,432.70 L613.66,434.00 L613.66,432.20 Z"/>
<text x="622.70" y="443.5" font-size="19.5">2</text>
<text x="322" y="475" font-size="19.5">log<tspan font-style="italic">M</tspan><tspan font-size="14" dx="1.5" dy="5.8">star</tspan><tspan dy="-5.8"> (</tspan><tspan font-style="italic">M</tspan><tspan x="426">)</tspan></text>
<circle cx="421.3" cy="475.9" r="4.8" fill="none" stroke="#000" stroke-width="0.75"/><circle cx="421.3" cy="475.9" r="0.95"/>
<text transform="translate(16.2,264.3) rotate(-90) scale(0.985,1)" font-size="19.5">log<tspan font-style="italic">M</tspan><tspan font-size="14" dy="5">BH</tspan><tspan dy="-5"> (</tspan><tspan font-style="italic">M</tspan><tspan x="101.2">)</tspan></text>
<circle cx="17.3" cy="168.8" r="4.8" fill="none" stroke="#000" stroke-width="0.75"/><circle cx="17.3" cy="168.8" r="0.95"/>
<circle cx="112" cy="30.1" r="7.65" fill="#ff0000" stroke="#7a7a7a" stroke-width="2.9" opacity="0.5"/>
<polygon points="112,54.2 103.6,71.1 120.4,71.1" fill="#7c7c7c" stroke="#7c7c7c" stroke-width="1.7" stroke-linejoin="round" opacity="0.5"/>
<rect x="104.45" y="88.45" width="15.1" height="15.1" fill="#0000ff" stroke="#7a7a7a" stroke-width="2.6" stroke-linejoin="round" opacity="0.5"/>
<circle cx="112.2" cy="128.5" r="13.8" fill="#ffd700" stroke="#808080" stroke-width="2.8"/>
<text x="135" y="37" font-size="19.5">Local</text>
<text x="135" y="70.2" font-size="19.5">QSOs <tspan font-style="italic" dx="-2">z</tspan> <tspan dx="-0.5">≈</tspan><tspan dx="-0.8"> 6.5 (dyn.)</tspan></text>
<text x="135" y="103.1" font-size="19.5">JWST <tspan font-style="italic" dx="-2">z</tspan> <tspan dx="-0.5">≈</tspan><tspan dx="-0.8"> 4–8</tspan></text>
<text x="135" y="136.8" font-size="19.5">GN-z</text>
<path d="M186.10,122.80 L187.40,122.80 L187.40,136.80 L185.80,136.80 L185.80,126.00 L182.10,127.30 L182.10,125.50 Z"/>
<path d="M196.94,122.80 L198.24,122.80 L198.24,136.80 L196.64,136.80 L196.64,126.00 L192.94,127.30 L192.94,125.50 Z"/></svg>
</body></html>
